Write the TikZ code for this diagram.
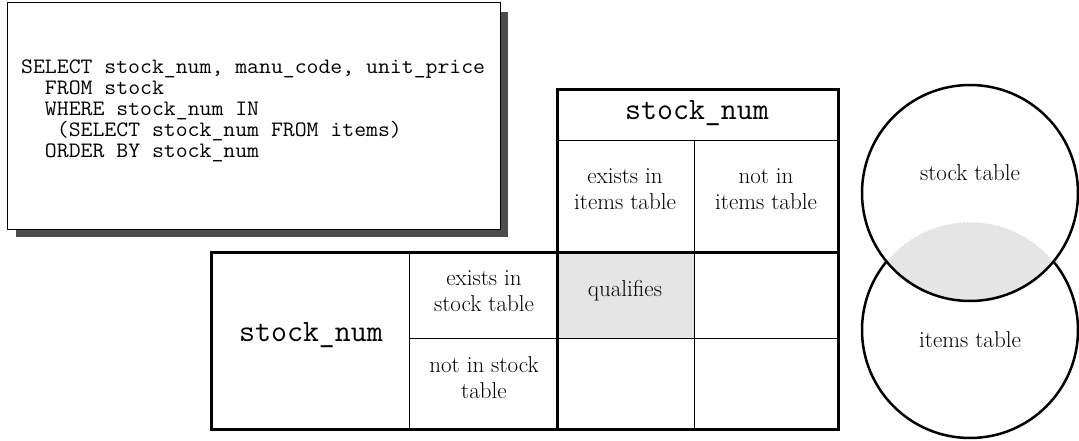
\documentclass[tikz,border=0pt]{standalone}
\usepackage{fontspec}
\newfontfamily\sqlfont[FakeStretch=1.05]{Latin Modern Mono}
\begin{document}
\begin{tikzpicture}[x=1pt,y=-1pt,
  thickrule/.style={line width=3pt,line join=miter},
  thinrule/.style={line width=1pt},
  celltext/.style={align=center,inner sep=0pt,font=\fontsize{23}{26}\selectfont},
  codetext/.style={inner sep=0pt,font=\ttfamily\fontsize{31}{33}\selectfont},
  sqltext/.style={align=left,inner sep=0pt,font=\sqlfont\fontsize{22}{21}\selectfont},
  setline/.style={line width=2.5pt},
  hit/.style={fill=black!10}]
\useasboundingbox (0,0) rectangle (1079,441);

% query card with drop shadow
\fill[black!70] (16,12) rectangle (508,237);
\draw[fill=white,line width=1pt] (7,3) rectangle (500,229);
\node[sqltext,anchor=north west] (query) at (21,60)
  {SELECT stock\_num, manu\_code, unit\_price\\
   \ \ FROM stock\\
   \ \ WHERE stock\_num IN\\
   \ \ \ (SELECT stock\_num FROM items)\\
   \ \ ORDER BY stock\_num};

% truth grid
\fill[hit] (557,252) rectangle (694,338);
\draw[thinrule] (557,141) -- (838,141);
\draw[thinrule] (694,141) -- (694,429);
\draw[thinrule] (409,252) -- (409,429);
\draw[thinrule] (409,338) -- (838,338);
\draw[thickrule] (557,90) rectangle (838,429);
\draw[thickrule] (211,252) rectangle (838,429);

\node[codetext] (colhead) at (697,113) {stock\_num};
\node[codetext] (rowhead) at (311,335) {stock\_num};
\node[celltext] (initems) at (625,189) {exists in\\items table};
\node[celltext] (notitems) at (766,189) {not in\\items table};
\node[celltext] (instock) at (484,291) {exists in\\stock table};
\node[celltext] (notstock) at (484,378) {not in stock\\table};
\node[celltext] (qual) at (625,291) {qualifies};

% set diagram
\coordinate (stockc) at (970,193);
\coordinate (itemsc) at (970,330);
\draw[setline,fill=white] (itemsc) circle (108);
\fill[white] (stockc) circle (108);
\begin{scope}
  \clip (stockc) circle (108);
  \fill[hit] (itemsc) circle (108);
  \draw[white,line width=1pt,dash pattern=on 2pt off 2pt] (itemsc) circle (108);
\end{scope}
\draw[setline] (stockc) circle (108);
\node[celltext] (stocklbl) at (970,173) {stock table};
\node[celltext] (itemslbl) at (970,340) {items table};
\end{tikzpicture}
\end{document}
